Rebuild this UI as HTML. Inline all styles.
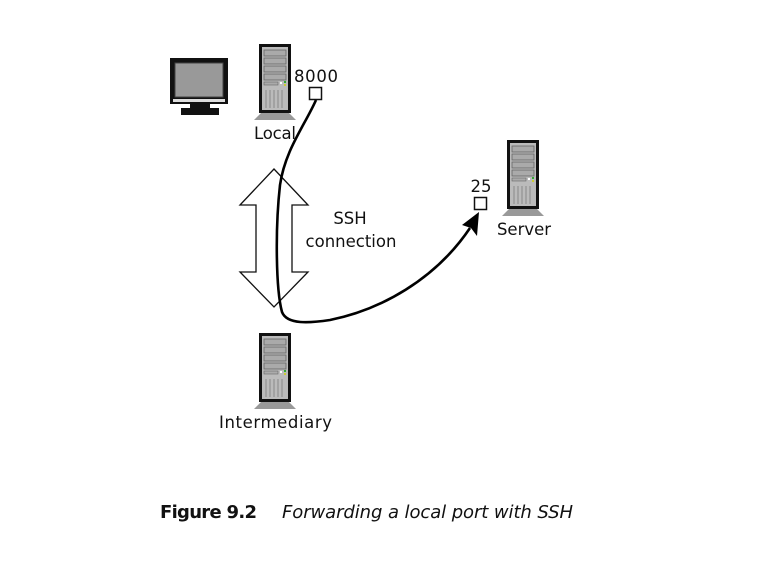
<!DOCTYPE html>
<html><head><style>
html,body{margin:0;padding:0;background:#fff;}
svg{display:block;}
</style></head><body>
<svg width="768" height="566" viewBox="0 0 768 566" xmlns="http://www.w3.org/2000/svg">
<defs>
<g id="tower">
  <polygon points="3,68 29,68 37,76 -5,76" fill="#999"/>
  <rect x="0" y="0" width="32" height="69" fill="#111"/>
  <rect x="3" y="3" width="26" height="63" fill="#bbb"/>
  <rect x="5" y="6" width="22" height="6" fill="#aaa" stroke="#666" stroke-width="0.8"/>
  <rect x="5" y="14" width="22" height="6" fill="#aaa" stroke="#666" stroke-width="0.8"/>
  <rect x="5" y="22" width="22" height="6" fill="#aaa" stroke="#666" stroke-width="0.8"/>
  <rect x="5" y="30" width="22" height="6" fill="#aaa" stroke="#666" stroke-width="0.8"/>
  <rect x="5" y="38" width="14" height="3" fill="#aaa" stroke="#666" stroke-width="0.6"/>
  <rect x="21" y="38" width="2" height="2" fill="#fff"/>
  <rect x="25" y="37" width="2" height="2" fill="#3a3"/>
  <rect x="25" y="40" width="2" height="2" fill="#cc3"/>
  <g stroke="#888" stroke-width="1">
    <line x1="7" y1="46" x2="7" y2="64"/><line x1="11" y1="46" x2="11" y2="64"/>
    <line x1="15" y1="46" x2="15" y2="64"/><line x1="19" y1="46" x2="19" y2="64"/>
    <line x1="23" y1="46" x2="23" y2="64"/>
  </g>
</g>
</defs>
<!-- monitor -->
<rect x="170" y="58" width="58" height="46" fill="#111"/>
<rect x="175" y="63" width="48" height="34" fill="#999" stroke="#444" stroke-width="1"/>
<rect x="173" y="99" width="52" height="3" fill="#ddd"/>
<rect x="190" y="104" width="20" height="4" fill="#111"/>
<rect x="181" y="108" width="38" height="7" fill="#111"/>

<use href="#tower" x="259" y="44"/>
<use href="#tower" x="259" y="333"/>
<use href="#tower" x="507" y="140"/>

<!-- double arrow -->
<polygon points="274,169 308,205 292,205 292,272 308,272 274,307 240,272 256,272 256,205 240,205" fill="#fff" stroke="#111" stroke-width="1.3"/>

<!-- ports -->
<rect x="309.5" y="87.5" width="12" height="12" fill="#fff" stroke="#111" stroke-width="1.5"/>
<rect x="474.5" y="197.5" width="12" height="12" fill="#fff" stroke="#111" stroke-width="1.5"/>

<!-- curve -->
<path d="M316,100 C305,125 285,150 280,185 C275,230 276,290 282,312 C287,325 310,323 330,320 C380,310 435,280 470,228" fill="none" stroke="#000" stroke-width="2.6"/>
<polygon points="479,212 477,236 471,228 462,225" fill="#000"/>

<g font-family="'DejaVu Sans','Liberation Sans',sans-serif" font-size="16.5" fill="#111">
<text x="294" y="82" textLength="44">8000</text>
<text x="254" y="139" textLength="42">Local</text>
<text x="350" y="224" text-anchor="middle">SSH</text>
<text x="351" y="247" text-anchor="middle">connection</text>
<text x="481" y="192" text-anchor="middle">25</text>
<text x="524" y="235" text-anchor="middle">Server</text>
<text x="219" y="428" textLength="113">Intermediary</text>
</g>
<text x="160" y="518" font-family="'DejaVu Sans','Liberation Sans',sans-serif" font-size="18" font-weight="bold" fill="#111" textLength="97">Figure 9.2</text>
<text x="282" y="518" font-family="'DejaVu Sans','Liberation Sans',sans-serif" font-size="18" font-style="italic" fill="#111" textLength="291">Forwarding a local port with SSH</text>
</svg>
</body></html>
